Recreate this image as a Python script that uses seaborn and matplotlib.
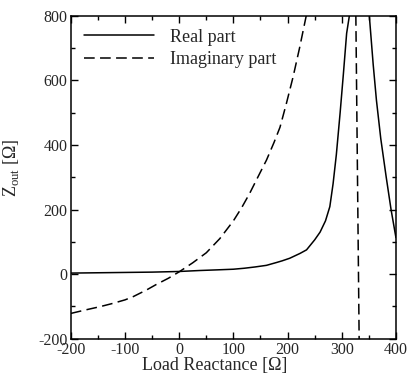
import numpy as np
import pandas as pd
import matplotlib
matplotlib.use('Agg')
import matplotlib.pyplot as plt
import seaborn as sns
from matplotlib.ticker import MultipleLocator

# values (points above 800 / below -200 are clipped)
real_x = [-200, -150, -100, -50, 0, 38, 70, 100, 120, 140, 161, 180, 190, 204,
          223, 235, 250, 260, 270, 278, 284, 290, 297, 303, 309, 314, 320,
          332, 345, 351, 358, 364, 372, 382, 391, 400]
real_y = [3, 4, 5, 6, 8, 11, 13, 15, 18, 22, 27, 36, 41, 49,
          64, 75, 106, 130, 165, 209, 280, 370, 500, 620, 746, 800, 1100,
          3000, 1100, 798, 650, 539, 420, 301, 200, 113]

imag_x = [-200, -175, -146, -125, -100, -85, -60, -42, -20, 0, 25, 50, 75,
          100, 115, 130, 145, 161, 175, 186, 198, 210, 222, 234, 245, 260,
          290, 323, 343, 400]
imag_y = [-122, -112, -101, -92, -80, -70, -49, -32, -13, 7, 35, 66, 110,
          165, 205, 250, 300, 353, 408, 455, 530, 610, 700, 797, 880, 1000,
          1150, 1300, -2000, -1500]

df = pd.concat([
    pd.DataFrame({'x': real_x, 'z': real_y, 'part': 'Real part'}),
    pd.DataFrame({'x': imag_x, 'z': imag_y, 'part': 'Imaginary part'}),
])

sns.set_style('ticks')
plt.rcParams['font.family'] = ['Liberation Serif', 'DejaVu Serif']
plt.rcParams['mathtext.fontset'] = 'custom'
plt.rcParams['mathtext.rm'] = 'Liberation Serif'
plt.rcParams['axes.unicode_minus'] = False

fig = plt.figure(figsize=(4.12, 3.8), dpi=100)
ax = fig.add_axes([0.172, 0.109, 0.789, 0.849])

sns.lineplot(data=df, x='x', y='z', style='part', estimator=None, sort=False,
             dashes={'Real part': '', 'Imaginary part': (7, 3.5)},
             color='black', linewidth=1.1, ax=ax)

ax.set_xlim(-200, 400)
ax.set_ylim(-200, 800)
ax.xaxis.set_major_locator(MultipleLocator(100))
ax.xaxis.set_minor_locator(MultipleLocator(50))
ax.yaxis.set_major_locator(MultipleLocator(200))
ax.yaxis.set_minor_locator(MultipleLocator(100))
ax.tick_params(which='both', direction='in', top=True, right=True,
               labelsize=11.5, color='black', width=1.0)
ax.tick_params(which='major', length=5)
ax.tick_params(which='minor', length=3)
ax.tick_params(axis='x', pad=2.5)
ax.tick_params(axis='y', pad=2.5)
for s in ax.spines.values():
    s.set_linewidth(1.1)
    s.set_color('black')

ax.set_xlabel('Load Reactance [\u03a9]', fontsize=13)
ax.set_ylabel('Z$_{\\mathrm{out}}$ [\u03a9]', fontsize=13)
ax.xaxis.set_label_coords(0.443, -0.058)
ax.yaxis.set_label_coords(-0.152, 0.53)

leg = ax.legend(loc='upper left', frameon=False, fontsize=13,
                handlelength=3.9, handletextpad=0.9, borderaxespad=0.3,
                labelspacing=0.3, title=None)
for h in leg.get_lines():
    h.set_color('black')

fig.savefig('out.png', dpi=100)
